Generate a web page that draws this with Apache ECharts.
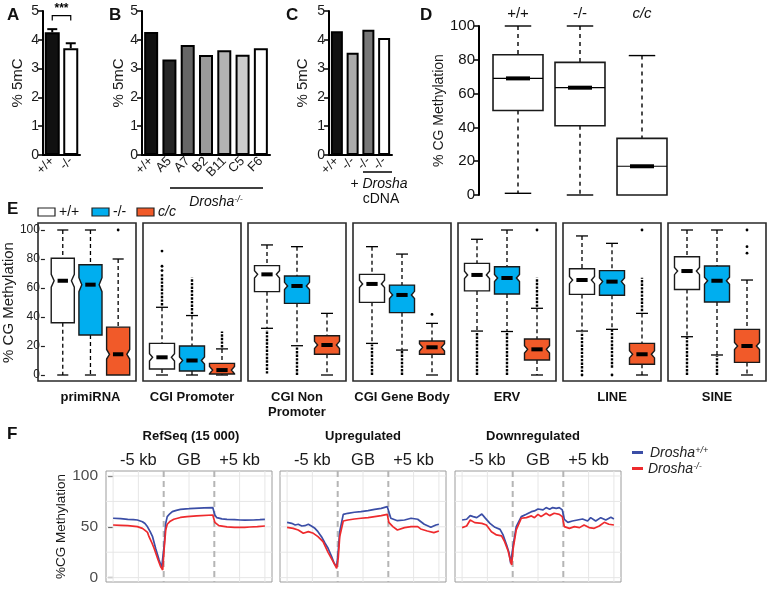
<!DOCTYPE html>
<html><head><meta charset="utf-8">
<script src="https://cdn.jsdelivr.net/npm/echarts@6/dist/echarts.min.js"></script>
<style>html,body{margin:0;padding:0;background:#fff}#c{width:772px;height:589px}</style>
</head><body><div id="c"></div>
<script>
// ================= DATA =================
// Panel A
const aCats = ['+/+', '-/-'];
const aVals = [4.26, 3.71];
const aErr = [0.11, 0.17];
const aSigY = 4.84;
const aSigLabel = '***';
// Panel B
const bCats = ['+/+', 'A5', 'A7', 'B2', 'B11', 'C5', 'F6'];
const bVals = [4.27, 3.32, 3.82, 3.47, 3.64, 3.48, 3.71];
// Panel C
const cCats = ['+/+', '-/-', '-/-', '-/-'];
const cVals = [4.3, 3.55, 4.35, 4.06];
// Panel D  [low, q1, median, q3, high]
const dCats = ['+/+', '-/-', 'c/c'];
const dBoxes = [[1, 50, 69, 83, 100], [0, 41, 63.5, 78.5, 100], [0, 0, 17, 33.5, 82.5]];
// Panel E  [low, q1, median, q3, high]
const ePanels = ['primiRNA', 'CGI Promoter', 'CGI Non\nPromoter', 'CGI Gene Body', 'ERV', 'LINE', 'SINE'];
const eGenotypes = ['+/+', '-/-', 'c/c'];
const eWT = [[0, 36, 65, 80.5, 100], [0, 4.1, 12.2, 21.8, 46.7], [32.2, 57.5, 69.4, 75.4, 89.7], [21.8, 50.1, 62.8, 69.4, 88.5], [30.3, 58, 69, 77, 93.6], [30.3, 55.6, 65.5, 73.3, 95.9], [26.4, 59, 71.7, 81.6, 100]];
const eKO = [[0, 27.6, 62.3, 76, 100], [0, 2.8, 10, 20, 41], [20.2, 49.4, 61.4, 68.3, 88.5], [17.2, 43, 55.2, 62, 83.4], [30, 55.9, 66.9, 74.7, 100], [31.5, 55, 64.4, 72, 90.8], [13.8, 50.3, 65, 75.2, 100]];
const eCC = [[0, 0, 14.3, 33, 80], [0, 0.7, 3.4, 8, 18], [0, 14.3, 20.7, 27.1, 42.5], [0, 14.3, 19.1, 23.4, 35.6], [0, 10.3, 17.7, 24.8, 46], [0, 7.4, 14.3, 21.8, 42.5], [0, 8.7, 20, 31.5, 65.5]];
// dense outlier stretches [from, to] and single outliers
const eWTRuns = [[], [[48, 70]], [[1, 31]], [[0, 21]], [[0, 29.5]], [[2, 29.5]], [[0, 26]]];
const eWTPts = [[], [72, 75, 85.5], [], [], [], [0], []];
const eKORuns = [[], [[42, 67]], [[0, 19.5]], [[0, 16.5]], [[0, 29.5]], [[5, 31]], [[0, 13]]];
const eKOPts = [[], [], [], [], [], [0], []];
const eCCRuns = [[], [[19, 30]], [], [], [[47, 67]], [[44, 67]], []];
const eCCPts = [[100], [], [], [41.8], [100], [100], [84, 88.5, 100]];
// Panel F  (x: 0..300 = -5kb | gene body | +5kb)
const fTitles = ['RefSeq (15 000)', 'Upregulated', 'Downregulated'];
const fRegionPos = [50, 150, 250];
const fRegionLabels = ['-5 kb', 'GB', '+5 kb'];
const fBoundaries = [100, 200];
const fVGrid = [0, 50, 150, 250, 300];
const fHGrid = [0, 25, 50, 75, 100];
const fYTicks = [0, 50, 100];
const refBlue = [[0,58.4],[15,58],[29,57.4],[40,57],[48,56.7],[58,55],[63,53.2],[68,50],[73,45.5],[78,40.3],[84,28.9],[91,17.4],[96,9.8],[98,9.2],[101,32],[104,53.4],[107,60],[112,62.8],[117,64.9],[125,66.2],[133,67.2],[150,67.8],[160,68.2],[180,68.6],[197,68.9],[201,61.6],[205,59],[215,57.8],[225,57.4],[240,57],[251,56.7],[260,56.6],[277,56.7],[290,57],[300,57.4]];
const refRed = [[0,51.8],[15,51.5],[29,51.1],[48,50.2],[58,48.5],[62,46.9],[68,44.5],[71,40.3],[76,35],[81,28.9],[89,17.4],[94,10.8],[98,7.5],[101,28.9],[104,46.9],[107,52.5],[113,55.5],[120,57.4],[133,59.2],[146,60],[165,60.8],[197,61.6],[201,54.4],[209,51.1],[225,50],[240,49.5],[260,49.5],[270,49.8],[285,50.2],[300,50.8]];
const upBlue = [[0,54.4],[9,53.4],[16,51.8],[22,52.5],[29,50.8],[35,51.1],[42,52.5],[48,50.8],[55,48.5],[61,45.2],[68,40.3],[75,33.8],[81,28.9],[88,20.7],[93,14.1],[98,10.8],[101,25.6],[104,45.2],[111,62.3],[120,63.3],[133,64.3],[146,64.9],[160,65.9],[173,67.2],[186,68.2],[198,69.8],[201,64.9],[205,58.4],[218,56],[232,56.7],[245,58.4],[258,57.4],[271,52.5],[284,49.5],[294,51.8],[300,52.5]];
const upRed = [[0,49.5],[12,48.5],[22,46.9],[32,43.6],[42,45.2],[52,43.6],[61,40.3],[71,35.4],[81,24.9],[91,15.7],[98,9.2],[101,19],[104,40.3],[111,55.7],[120,56.7],[133,57.7],[146,58.4],[160,59],[173,60],[186,61],[198,62.3],[201,54.4],[209,50.2],[218,46.9],[232,49.2],[245,50.2],[258,50.2],[264,47.9],[277,45.9],[290,44.3],[300,45.9]];
const downBlue = [[0,56.7],[9,57.4],[16,61],[22,60],[29,59],[39,62.6],[45,59],[55,53.4],[65,49.5],[75,47.5],[81,42],[88,32.1],[93,23.9],[96,14.1],[98,13.1],[101,32.1],[107,50.2],[117,60],[127,62.3],[137,64.9],[143,65.6],[150,67.5],[160,66.6],[166,68.9],[173,67.2],[179,68.9],[186,68.2],[192,68.9],[198,66.6],[202,57.4],[209,54.4],[218,55.7],[228,56.7],[238,57.7],[248,55.7],[254,59],[264,55.7],[274,59],[284,56.7],[294,59.3],[300,57.7]];
const downRed = [[0,49.2],[9,50.8],[16,56.7],[25,54.1],[39,53.4],[48,51.8],[58,45.2],[68,42],[78,41],[84,35.4],[91,26.2],[96,15.7],[98,12.5],[101,28.9],[107,46.9],[117,58.4],[127,59],[137,60.7],[143,59],[150,62.3],[156,60],[166,63.3],[173,61],[182,63.3],[192,62.3],[198,60],[202,50.2],[212,48.5],[222,50.2],[232,49.2],[241,51.8],[251,49.2],[261,48.5],[271,50.8],[281,54.4],[290,52.5],[300,51.8]];
const fSeriesNames = ['Drosha +/+', 'Drosha -/-'];

// ================= STYLE =================
const FONT = '"Liberation Sans", Arial, Helvetica, sans-serif';
const aColors = ['#111111', '#ffffff'];
const bColors = ['#111111', '#262626', '#666666', '#9a9a9a', '#b3b3b3', '#cccccc', '#ffffff'];
const cColors = ['#111111', '#ababab', '#777777', '#ffffff'];
const eFills = ['#ffffff', '#00aeef', '#f15a29'];
const fBlue = '#3b4ea6', fRed = '#ee2a2d';

const chart = echarts.init(document.getElementById('c'), null, {renderer: 'canvas'});

// ---------- layout ----------
const grids = [
  {left: 43, top: 11, width: 37, height: 144},
  {left: 142, top: 11, width: 128, height: 144},
  {left: 329, top: 11, width: 63, height: 144},
  {left: 487, top: 26, width: 186, height: 169}
];
const E0 = grids.length;
const eStep = 105, eFrameLeft = 38, eFrameW = 98, eFrameTop = 223, eFrameH = 158;
ePanels.forEach((_, p) => grids.push({left: eFrameLeft + 4 + eStep * p, top: 230, width: 90, height: 145}));
const F0 = grids.length;
const fLefts = [106, 280, 455];
fLefts.forEach(l => grids.push({left: l, top: 471, width: 166, height: 111, show: true, borderColor: '#9c9c9c', borderWidth: 1, backgroundColor: '#fff'}));

const xAxes = [], yAxes = [], series = [];

// ---------- bar panels ----------
function barY(gi, gap) {
  return {gridIndex: gi, type: 'value', min: 0, max: 5, interval: 1,
    axisLine: {show: true, lineStyle: {color: '#000', width: 2}},
    axisTick: {show: true, length: 5, lineStyle: {color: '#000', width: 1.5}},
    axisLabel: {fontSize: 14, color: '#1a1a1a', margin: 4, fontFamily: FONT},
    splitLine: {show: false},
    name: '% 5mC', nameLocation: 'middle', nameGap: gap,
    nameTextStyle: {fontSize: 15, color: '#1a1a1a', fontFamily: FONT}};
}
function barX(gi, cats) {
  return {gridIndex: gi, type: 'category', data: cats,
    axisLine: {lineStyle: {color: '#000', width: 2}},
    axisTick: {alignWithLabel: true, length: 5, lineStyle: {color: '#000', width: 1.5}},
    axisLabel: {rotate: 45, fontSize: 13, color: '#1a1a1a', margin: 4, interval: 0, fontFamily: FONT}};
}
function barSeries(gi, vals, colors, w) {
  return {type: 'bar', xAxisIndex: gi, yAxisIndex: gi, barWidth: w,
    data: vals.map((v, i) => ({value: v, itemStyle: {color: colors[i]}})),
    itemStyle: {borderColor: '#000', borderWidth: 2}, z: 2};
}
xAxes.push(barX(0, aCats)); yAxes.push(barY(0, 18));
xAxes.push(barX(1, bCats)); yAxes.push(barY(1, 12));
xAxes.push(barX(2, cCats)); yAxes.push(barY(2, 19));
series.push(barSeries(0, aVals, aColors, 15));
series.push(barSeries(1, bVals, bColors, 14));
series.push(barSeries(2, cVals, cColors, 12));
// error bars A
series.push({type: 'custom', xAxisIndex: 0, yAxisIndex: 0, z: 3,
  data: aVals.map((v, i) => [i, v, aErr[i]]),
  renderItem: (params, api) => {
    const top = api.coord([api.value(0), api.value(1) + api.value(2)]);
    const base = api.coord([api.value(0), api.value(1)]);
    return {type: 'group', children: [
      {type: 'line', shape: {x1: base[0], y1: base[1], x2: top[0], y2: top[1]}, style: {stroke: '#000', lineWidth: 2}},
      {type: 'line', shape: {x1: top[0] - 5, y1: top[1], x2: top[0] + 5, y2: top[1]}, style: {stroke: '#000', lineWidth: 2}}
    ]};
  }});
// significance bracket A
series.push({type: 'custom', xAxisIndex: 0, yAxisIndex: 0, z: 3,
  data: [[0, aSigY, 1]],
  renderItem: (params, api) => {
    const p0 = api.coord([api.value(0), api.value(1)]);
    const p1 = api.coord([api.value(2), api.value(1)]);
    const drop = 5;
    return {type: 'group', children: [
      {type: 'polyline', shape: {points: [[p0[0], p0[1] + drop], [p0[0], p0[1]], [p1[0], p1[1]], [p1[0], p1[1] + drop]]}, style: {stroke: '#000', lineWidth: 1.2, fill: null}},
      {type: 'text', x: (p0[0] + p1[0]) / 2, y: p0[1] - 1, style: {text: aSigLabel, font: 'bold 12px ' + FONT, fill: '#000', align: 'center', verticalAlign: 'bottom'}}
    ]};
  }});

// ---------- box renderer ----------
function boxRenderer(cfg, extras) {
  return function (params, api) {
    const cat = api.value(0);
    const lo = api.value(1), q1 = api.value(2), md = api.value(3), q3 = api.value(4), hi = api.value(5);
    const band = api.size([1, 0])[0];
    const cx = api.coord([cat, 0])[0];
    const Y = v => api.coord([cat, v])[1];
    const hw = band * cfg.hw;
    const ch = [];
    const dashed = () => ({stroke: '#000', lineWidth: cfg.lw, lineDash: cfg.dash, fill: null});
    const solid = () => ({stroke: '#000', lineWidth: cfg.lw, fill: null});
    const capW = hw * cfg.cap;
    if (hi > q3) {
      ch.push({type: 'line', shape: {x1: cx, y1: Y(hi), x2: cx, y2: Y(q3)}, style: dashed()});
      ch.push({type: 'line', shape: {x1: cx - capW, y1: Y(hi), x2: cx + capW, y2: Y(hi)}, style: solid()});
    }
    if (lo < q1) {
      ch.push({type: 'line', shape: {x1: cx, y1: Y(q1), x2: cx, y2: Y(lo)}, style: dashed()});
      ch.push({type: 'line', shape: {x1: cx - capW, y1: Y(lo), x2: cx + capW, y2: Y(lo)}, style: solid()});
    }
    if (extras) {
      const ex = extras(cat);
      ex.runs.forEach(r => ch.push({type: 'line', shape: {x1: cx, y1: Y(r[0]), x2: cx, y2: Y(r[1])}, style: {stroke: '#000', lineWidth: 2.4, lineDash: [2.4, 1.2]}}));
      ex.pts.forEach(v => ch.push({type: 'circle', shape: {cx: cx, cy: Y(v), r: 1.4}, style: {fill: '#000'}}));
    }
    let pts;
    if (cfg.notch) {
      let n = Math.max(0.1 * (q3 - q1), 2.5);
      n = Math.max(0, Math.min(n, md - q1, q3 - md));
      const ind = hw * cfg.notch;
      pts = [[cx - hw, Y(q3)], [cx + hw, Y(q3)], [cx + hw, Y(md + n)], [cx + hw - ind, Y(md)], [cx + hw, Y(md - n)], [cx + hw, Y(q1)],
             [cx - hw, Y(q1)], [cx - hw, Y(md - n)], [cx - hw + ind, Y(md)], [cx - hw, Y(md + n)]];
    } else {
      pts = [[cx - hw, Y(q3)], [cx + hw, Y(q3)], [cx + hw, Y(q1)], [cx - hw, Y(q1)]];
    }
    ch.push({type: 'polygon', shape: {points: pts}, style: {fill: cfg.fills[cat], stroke: '#1a1a1a', lineWidth: cfg.boxLw}});
    if (cfg.medLine) ch.push({type: 'line', shape: {x1: cx - hw, y1: Y(md), x2: cx + hw, y2: Y(md)}, style: {stroke: '#000', lineWidth: 1.2}});
    ch.push({type: 'rect', shape: {x: cx - hw * cfg.med, y: Y(md) - cfg.medH / 2, width: 2 * hw * cfg.med, height: cfg.medH}, style: {fill: '#000'}});
    return {type: 'group', children: ch};
  };
}

// ---------- panel D ----------
xAxes.push({gridIndex: 3, type: 'category', data: dCats, position: 'top',
  axisLine: {show: false}, axisTick: {show: false},
  axisLabel: {fontSize: 15, color: '#111', margin: 5, fontFamily: FONT,
    formatter: v => v === 'c/c' ? '{i|c/c}' : v, rich: {i: {fontStyle: 'italic', fontSize: 15, fontFamily: FONT, color: '#111'}}}});
yAxes.push({gridIndex: 3, type: 'value', min: 0, max: 100, interval: 20, offset: 8,
  axisLine: {show: true, lineStyle: {color: '#000', width: 2}},
  axisTick: {show: true, length: 5, lineStyle: {color: '#000', width: 1.5}},
  axisLabel: {fontSize: 15, color: '#111', margin: 4, fontFamily: FONT}, splitLine: {show: false},
  name: '% CG Methylation', nameLocation: 'middle', nameGap: 31,
  nameTextStyle: {fontSize: 14, color: '#1a1a1a', fontFamily: FONT}});
series.push({type: 'custom', xAxisIndex: 3, yAxisIndex: 3, z: 3,
  data: dBoxes.map((b, i) => [i].concat(b)), encode: {x: 0, y: [1, 2, 3, 4, 5]},
  renderItem: boxRenderer({hw: 0.403, cap: 0.53, med: 0.48, medH: 4, lw: 1.4, dash: [4, 4], boxLw: 1.6, notch: 0, medLine: true, fills: ['#fff', '#fff', '#fff']})});

// ---------- panel E ----------
ePanels.forEach((name, p) => {
  const gi = E0 + p;
  xAxes.push({gridIndex: gi, type: 'category', data: eGenotypes,
    axisLine: {show: false}, axisTick: {show: false}, axisLabel: {show: false},
    name: name, nameLocation: 'middle', nameGap: 15,
    nameTextStyle: {fontSize: 13, fontWeight: 'bold', lineHeight: 15, color: '#111', fontFamily: FONT}});
  const first = p === 0;
  yAxes.push({gridIndex: gi, type: 'value', min: 0, max: 100, interval: 20, offset: 4,
    axisLine: {show: false},
    axisTick: {show: first, length: 4, lineStyle: {color: '#222', width: 1.2}},
    axisLabel: {show: first, fontSize: 12, color: '#222', margin: 5, fontFamily: FONT},
    splitLine: {show: false},
    name: first ? '% CG Methylation' : '', nameLocation: 'middle', nameGap: 22,
    nameTextStyle: {fontSize: 15, color: '#1a1a1a', fontFamily: FONT}});
  const runs = [eWTRuns[p], eKORuns[p], eCCRuns[p]];
  const pts = [eWTPts[p], eKOPts[p], eCCPts[p]];
  series.push({type: 'custom', xAxisIndex: gi, yAxisIndex: gi, z: 3,
    data: [[0].concat(eWT[p]), [1].concat(eKO[p]), [2].concat(eCC[p])], encode: {x: 0, y: [1, 2, 3, 4, 5]},
    renderItem: boxRenderer({hw: 0.417, cap: 0.48, med: 0.45, medH: 4, lw: 1.3, dash: [4, 3], boxLw: 1.4, notch: 0.25, medLine: false, fills: eFills},
      c => ({runs: runs[c], pts: pts[c]}))});
});

// ---------- panel F ----------
const fData = [[refBlue, refRed], [upBlue, upRed], [downBlue, downRed]];
function gridLineRender(orient, style) {
  return (params, api) => {
    const cs = params.coordSys;
    if (orient === 'v') {
      const x = api.coord([api.value(0), 0])[0];
      return {type: 'line', shape: {x1: x, y1: cs.y, x2: x, y2: cs.y + cs.height}, style: Object.assign({}, style)};
    }
    const y = api.coord([0, api.value(1)])[1];
    return {type: 'line', shape: {x1: cs.x, y1: y, x2: cs.x + cs.width, y2: y}, style: Object.assign({}, style)};
  };
}
fData.forEach((pair, k) => {
  const gi = F0 + k;
  const first = k === 0;
  xAxes.push({gridIndex: gi, type: 'value', min: -14, max: 314, position: 'top',
    axisLine: {show: false}, axisTick: {show: false}, splitLine: {show: false},
    axisLabel: {customValues: fRegionPos, formatter: v => fRegionLabels[fRegionPos.indexOf(v)],
      fontSize: 16.5, color: '#1a1a1a', margin: 2, fontFamily: FONT}});
  yAxes.push({gridIndex: gi, type: 'value', min: -4.3, max: 104.9,
    axisLine: {show: false}, splitLine: {show: false},
    axisTick: {show: first, customValues: fYTicks, length: 5, lineStyle: {color: '#333', width: 1.2}},
    axisLabel: {show: first, customValues: fYTicks, fontSize: 15.5, color: '#4d4d4d', margin: 8, fontFamily: FONT},
    name: first ? '%CG Methylation' : '', nameLocation: 'middle', nameGap: 36,
    nameTextStyle: {fontSize: 13.5, color: '#1a1a1a', fontFamily: FONT}});
  series.push({type: 'custom', xAxisIndex: gi, yAxisIndex: gi, z: 1, silent: true,
    data: fHGrid.map(v => [0, v]), encode: {x: 0, y: 1},
    renderItem: gridLineRender('h', {stroke: '#e6e6e6', lineWidth: 1})});
  series.push({type: 'custom', xAxisIndex: gi, yAxisIndex: gi, z: 1, silent: true,
    data: fVGrid.map(v => [v, 0]), encode: {x: 0, y: 1},
    renderItem: gridLineRender('v', {stroke: '#e6e6e6', lineWidth: 1})});
  series.push({type: 'custom', xAxisIndex: gi, yAxisIndex: gi, z: 1, silent: true,
    data: fBoundaries.map(v => [v, 0]), encode: {x: 0, y: 1},
    renderItem: gridLineRender('v', {stroke: '#b5b5b5', lineWidth: 2, lineDash: [6, 4]})});
  series.push({type: 'line', name: fSeriesNames[0], xAxisIndex: gi, yAxisIndex: gi, data: pair[0], showSymbol: false, symbol: 'none', z: 4,
    lineStyle: {color: fBlue, width: 1.7}});
  series.push({type: 'line', name: fSeriesNames[1], xAxisIndex: gi, yAxisIndex: gi, data: pair[1], showSymbol: false, symbol: 'none', z: 4,
    lineStyle: {color: fRed, width: 1.7}});
});

// ---------- annotations ----------
const T = (text, x, y, font, extra) => ({type: 'text', x: x, y: y, z: 10,
  style: Object.assign({text: text, font: font, fill: '#111', align: 'left', verticalAlign: 'middle'}, extra || {})});
const LET = 'bold 17px ' + FONT;
const graphic = [
  T('A', 7, 15, LET), T('B', 109, 15, LET), T('C', 286, 15, LET), T('D', 420, 15, LET),
  T('E', 7, 209, LET), T('F', 7, 434, LET),
  {type: 'line', shape: {x1: 170, y1: 188, x2: 263, y2: 188}, style: {stroke: '#000', lineWidth: 1.5}},
  T('{i|Drosha}{s|-/-}', 216, 202, '14px ' + FONT, {align: 'center', rich: {i: {fontStyle: 'italic', fontSize: 14, fontFamily: FONT, fill: '#111'}, s: {fontStyle: 'italic', fontSize: 9, fontFamily: FONT, verticalAlign: 'top', fill: '#111'}}}),
  {type: 'line', shape: {x1: 363, y1: 172, x2: 392, y2: 172}, style: {stroke: '#000', lineWidth: 1.5}},
  T('{n|+ }{i|Drosha}', 379, 184, '14px ' + FONT, {align: 'center', rich: {n: {fontSize: 14, fontFamily: FONT, fill: '#111'}, i: {fontStyle: 'italic', fontSize: 14, fontFamily: FONT, fill: '#111'}}}),
  T('cDNA', 381, 199, '14px ' + FONT, {align: 'center'})
];
// E frames
ePanels.forEach((_, p) => graphic.push({type: 'rect', z: 5, silent: true,
  shape: {x: eFrameLeft + eStep * p, y: eFrameTop, width: eFrameW, height: eFrameH},
  style: {fill: null, stroke: '#2a2a2a', lineWidth: 1.6}}));
// E legend
const eLegX = [38, 92, 137];
eGenotypes.forEach((g, i) => {
  graphic.push({type: 'rect', z: 10, shape: {x: eLegX[i], y: 208, width: 17, height: 8}, style: {fill: eFills[i], stroke: '#222', lineWidth: 1.2}});
  graphic.push(T(g, eLegX[i] + 21, 212, (i === 2 ? 'italic ' : '') + '14px ' + FONT));
});
// F titles
const fTitleX = [191, 363, 533];
fTitles.forEach((t, k) => graphic.push(T(t, fTitleX[k], 436, 'bold 13px ' + FONT, {align: 'center'})));
// F legend
const supRich = {i: {fontStyle: 'italic', fontSize: 14, fontFamily: FONT, fill: '#222'}, s: {fontStyle: 'italic', fontSize: 9, fontFamily: FONT, verticalAlign: 'top', fill: '#222'}};
graphic.push({type: 'rect', z: 10, shape: {x: 632, y: 451, width: 11, height: 3}, style: {fill: fBlue}});
graphic.push(T('{i|Drosha}{s|+/+}', 650, 453, '14px ' + FONT, {rich: supRich}));
graphic.push({type: 'rect', z: 10, shape: {x: 632, y: 467, width: 11, height: 3}, style: {fill: fRed}});
graphic.push(T('{i|Drosha}{s|-/-}', 648, 469, '14px ' + FONT, {rich: supRich}));

chart.setOption({
  animation: false,
  backgroundColor: '#fff',
  textStyle: {fontFamily: FONT},
  grid: grids,
  xAxis: xAxes,
  yAxis: yAxes,
  series: series,
  graphic: graphic
});
</script>
</body></html>
